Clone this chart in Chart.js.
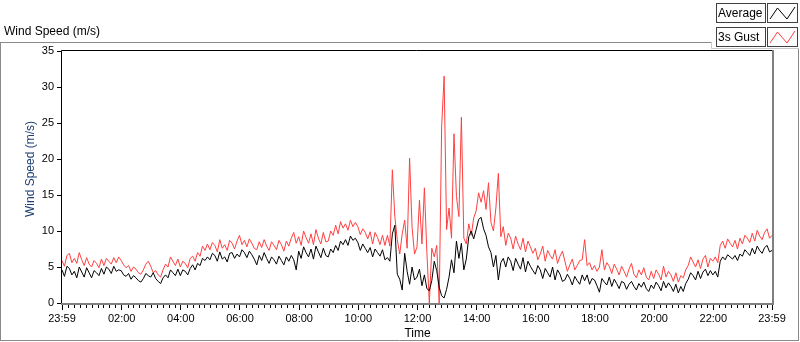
<!DOCTYPE html>
<html>
<head>
<meta charset="utf-8">
<title>Wind Speed</title>
<script src="https://cdn.jsdelivr.net/npm/chart.js@4.4.1/dist/chart.umd.min.js"></script>
<style>
  html, body { margin: 0; padding: 0; background: #fff; }
  #wrap { position: relative; width: 800px; height: 342px; }
</style>
</head>
<body>
<div id="wrap"><canvas id="windChart" width="800" height="342"></canvas></div>
<script>
// one sample every 5 minutes, 23:59 -> 23:59 (minutes from midnight)
const startMinute = -1;
const stepMinutes = 5;

// Average wind speed (m/s), 12 samples per hour
const average = [
  4.6, 3.7, 5.1, 4.8, 3.9, 4.4, 3.5, 5.0, 4.3, 3.6, 4.9, 4.2,
  3.5, 4.5, 4.2, 3.8, 4.8, 4.0, 5.0, 4.7, 4.1, 5.1, 4.4, 4.6,
  4.5, 3.9, 3.7, 4.1, 3.3, 3.8, 3.5, 3.1, 2.9, 3.4, 4.1, 3.8,
  3.6, 4.2, 3.4, 3.0, 2.7, 3.5, 3.9, 3.5, 4.6, 4.2, 3.8, 4.7,
  3.8, 4.6, 4.4, 3.9, 4.8, 5.3, 4.6, 5.5, 5.2, 6.2, 5.9, 6.4,
  6.0, 6.9, 6.6, 5.8, 7.1, 6.1, 6.4, 5.7, 6.9, 7.0, 6.2, 6.8,
  6.4, 7.4, 7.0, 6.3, 7.2, 6.7, 6.1, 5.3, 6.6, 5.9, 7.0, 6.2,
  5.5, 6.4, 6.0, 5.4, 6.5, 5.9, 5.3, 6.4, 5.8, 6.6, 6.0, 4.6,
  7.2, 6.2, 7.8, 7.0, 6.4, 7.5, 6.1, 7.9, 7.1, 6.3, 7.6, 6.6,
  6.4, 7.5, 7.0, 8.0, 7.3, 8.6, 8.1, 8.8, 8.0, 9.3, 8.7, 9.0,
  8.4, 7.3, 8.2, 7.6, 7.0, 7.7, 6.4, 7.5, 7.0, 6.5, 7.4, 6.0,
  6.3, 5.8, 9.6, 10.8, 4.0, 3.3, 1.8, 6.9, 4.4, 2.6, 5.0, 3.2,
  3.6, 4.7, 2.4, 3.9, 2.0, 1.7, 3.1, 5.8, 4.5, 2.2, 1.0, 0.7,
  1.9, 3.6, 6.0, 4.2, 8.6, 6.2, 8.3, 4.6, 6.1, 9.2, 10.0, 8.9,
  10.2, 11.6, 11.9, 10.3, 9.4, 7.8, 7.0, 5.0, 6.6, 3.2, 5.6, 6.2,
  5.0, 6.4, 5.8, 4.5, 6.2, 5.4, 4.7, 6.3, 4.3, 5.8, 5.1, 4.5,
  4.0, 5.2, 4.6, 3.4, 4.8, 4.2, 3.6, 5.0, 3.2, 4.6, 4.0, 3.0,
  3.2, 4.0, 3.4, 2.5, 3.7, 3.1, 2.6, 3.9, 3.1, 3.9, 2.6, 3.4,
  3.2, 2.4, 1.5, 3.4, 2.9, 2.5, 3.6, 2.3, 3.3, 2.7, 2.0, 3.0,
  2.8, 1.9, 2.6, 3.0, 2.3, 1.8, 2.7, 2.2, 2.9, 2.0, 1.6, 2.5,
  2.0, 2.9, 2.4, 1.7, 3.0, 2.1, 2.8, 2.3, 1.6, 2.6, 1.4, 2.3,
  1.6, 2.7, 3.3, 4.2, 3.8, 3.2, 4.4, 3.4, 4.3, 4.7, 3.8, 4.5,
  3.9, 4.4, 3.6, 5.8, 6.4, 6.0, 6.7, 6.4, 6.1, 6.6, 5.9, 6.8,
  6.5, 7.4, 7.0, 6.6, 7.6, 6.8, 7.9, 7.3, 6.9, 7.7, 8.0, 7.1,
  7.3
];

// 3 second gust (m/s)
const gust3s = [
  5.9, 5.1, 6.6, 6.9, 5.6, 6.2, 5.5, 7.0, 6.0, 5.2, 6.3, 5.4,
  5.0, 5.9, 5.5, 4.9, 6.1, 5.2, 6.2, 5.8, 5.4, 6.3, 5.6, 6.4,
  5.9, 5.3, 4.9, 5.2, 4.4, 5.0, 4.7, 4.2, 4.0, 4.6, 5.4, 5.8,
  5.1, 4.2, 4.5, 3.9, 3.6, 4.6, 5.4, 5.0, 6.4, 5.8, 5.2, 6.1,
  5.0, 5.8, 5.5, 4.9, 6.2, 6.5, 5.8, 7.0, 6.5, 7.9, 7.3, 8.2,
  7.4, 8.4, 8.0, 7.1, 8.8, 7.6, 8.1, 7.3, 8.7, 8.3, 7.5, 8.6,
  9.4, 8.1, 8.7, 7.8, 8.9, 8.3, 7.6, 7.4, 8.5, 7.7, 8.8, 7.9,
  7.3, 8.5, 8.0, 7.4, 8.7, 8.1, 7.2, 8.6, 7.9, 9.0, 9.8, 8.3,
  9.2, 8.0, 10.0, 9.1, 8.3, 9.6, 8.1, 10.2, 9.0, 8.2, 9.8, 8.5,
  8.6, 10.0, 9.4, 10.8, 9.6, 11.3, 10.4, 11.0, 10.1, 11.5, 10.6, 11.2,
  10.6, 9.5, 10.3, 9.8, 8.9, 9.9, 8.2, 9.8, 9.1, 8.1, 9.4, 8.0,
  9.4, 7.9, 18.5, 12.0, 8.8, 6.8, 9.6, 11.5, 7.6, 20.1, 10.5, 6.8,
  7.8, 14.3, 8.2, 16.0, 7.0, 0.0, 7.6, 6.4, 8.0, 0.0, 24.5, 31.5,
  10.2, 13.2, 9.0, 23.5, 14.8, 12.0, 25.8, 9.0, 8.2, 11.0, 9.4, 11.8,
  12.8, 15.3, 14.0, 15.6, 13.0, 16.7, 11.2, 10.0, 13.2, 18.0, 9.2, 10.6,
  8.0, 9.7, 9.0, 7.5, 9.3, 8.2, 7.4, 9.0, 7.1, 8.6, 7.8, 6.9,
  7.6, 6.0, 6.8, 7.9, 5.8, 7.3, 6.6, 6.1, 7.4, 5.5, 6.5, 7.2,
  5.8, 4.4, 5.3, 6.1, 4.6, 5.2, 5.9, 6.0, 8.8, 5.2, 5.6, 4.6,
  5.2, 4.4, 5.0, 7.4, 4.6, 5.6, 5.1, 4.1, 5.4, 4.7, 3.9, 5.1,
  4.4, 3.6, 4.7, 5.5, 4.0, 3.5, 4.6, 3.9, 4.9, 3.6, 3.2, 4.4,
  3.4, 4.6, 4.0, 3.2, 5.1, 3.6, 4.4, 3.9, 3.0, 4.2, 2.9, 3.8,
  3.5, 4.6, 5.2, 6.4, 5.7, 5.0, 6.0, 4.8, 6.1, 6.6, 5.0, 6.2,
  5.8, 6.4, 5.6, 8.0, 8.6, 7.6, 8.9, 8.3, 7.8, 8.7, 7.5, 9.0,
  8.2, 9.4, 9.0, 8.4, 9.7, 8.6, 10.1, 9.3, 8.8, 9.8, 10.3, 9.0,
  9.4
];

const yTicks = [0, 5, 10, 15, 20, 25, 30, 35];
const xTickMinutes = [-1, 120, 240, 360, 480, 600, 720, 840, 960, 1080, 1200, 1320, 1439];
const xTickLabels = ["23:59", "02:00", "04:00", "06:00", "08:00", "10:00", "12:00",
                     "14:00", "16:00", "18:00", "20:00", "22:00", "23:59"];
const minorStep = 12;

const FONT = '"Liberation Sans", Arial, sans-serif';

function toPoints(values) {
  return values.map((v, i) => ({ x: startMinute + i * stepMinutes, y: v }));
}

// LabVIEW style frame, legend and minor ticks
const labviewFrame = {
  id: 'labviewFrame',
  beforeDraw(chart) {
    const ctx = chart.ctx;
    ctx.save();
    ctx.fillStyle = '#fff';
    ctx.fillRect(0, 0, chart.width, chart.height);
    ctx.restore();
  },
  afterDraw(chart) {
    const ctx = chart.ctx;
    const a = chart.chartArea;
    const xs = chart.scales.x;
    ctx.save();

    // plot border: dark top/left, gray bottom/right
    ctx.lineWidth = 1;
    ctx.strokeStyle = '#000';
    ctx.beginPath();
    ctx.moveTo(Math.round(a.left) - 0.5, Math.round(a.bottom));
    ctx.lineTo(Math.round(a.left) - 0.5, Math.round(a.top) - 0.5);
    ctx.lineTo(Math.round(a.right), Math.round(a.top) - 0.5);
    ctx.stroke();
    ctx.strokeStyle = '#808080';
    ctx.lineWidth = 2;
    ctx.beginPath();
    ctx.moveTo(Math.round(a.left) - 1, Math.round(a.bottom) + 1);
    ctx.lineTo(Math.round(a.right) + 1, Math.round(a.bottom) + 1);
    ctx.lineTo(Math.round(a.right) + 1, Math.round(a.top) - 1);
    ctx.stroke();

    // minor ticks on the time axis
    ctx.strokeStyle = '#000';
    ctx.lineWidth = 1;
    ctx.beginPath();
    for (let k = 0; k < xTickMinutes.length - 1; k++) {
      for (let m = xTickMinutes[k] + minorStep; m < xTickMinutes[k + 1] - 2; m += minorStep) {
        const px = Math.round(xs.getPixelForValue(m)) + 0.5;
        ctx.moveTo(px, a.bottom + 2);
        ctx.lineTo(px, a.bottom + 5);
      }
    }
    ctx.stroke();

    // outer frame
    ctx.strokeStyle = '#8a8a8a';
    ctx.lineWidth = 1;
    ctx.beginPath();
    ctx.moveTo(0, 42.5);
    ctx.lineTo(712, 42.5);
    ctx.moveTo(0.5, 42.5);
    ctx.lineTo(0.5, 341);
    ctx.moveTo(0, 340.5);
    ctx.lineTo(799, 340.5);
    ctx.moveTo(798.5, 49);
    ctx.lineTo(798.5, 341);
    ctx.stroke();
    ctx.strokeStyle = '#c8c8c8';
    ctx.beginPath();
    ctx.moveTo(711.5, 42);
    ctx.lineTo(711.5, 48.5);
    ctx.lineTo(799, 48.5);
    ctx.stroke();

    // texts
    ctx.fillStyle = '#000';
    ctx.font = '12px ' + FONT;
    ctx.textAlign = 'left';
    ctx.textBaseline = 'middle';
    ctx.fillText('Wind Speed (m/s)', 4, 32);
    ctx.textAlign = 'center';
    ctx.fillText('Time', (a.left + a.right) / 2 + 0.5, 334);
    ctx.save();
    ctx.translate(31, 169);
    ctx.rotate(-Math.PI / 2);
    ctx.fillStyle = '#1d3f73';
    ctx.fillText('Wind Speed (m/s)', 0, 0);
    ctx.restore();

    // legend
    chart.data.datasets.forEach((ds, i) => {
      const top = 3 + i * 24;
      ctx.fillStyle = '#fdfdfd';
      ctx.fillRect(716, top, 49, 19);
      ctx.fillRect(767, top, 30, 19);
      ctx.strokeStyle = '#404040';
      ctx.lineWidth = 1;
      ctx.strokeRect(716.5, top + 0.5, 49, 19);
      ctx.strokeRect(767.5, top + 0.5, 30, 19);
      ctx.fillStyle = '#000';
      ctx.textAlign = 'left';
      ctx.font = '12px ' + FONT;
      ctx.fillText(ds.label, 718, top + 10.5);
      ctx.strokeStyle = ds.borderColor;
      ctx.beginPath();
      ctx.moveTo(770, top + 16);
      ctx.lineTo(777.5, top + 5);
      ctx.lineTo(787, top + 16);
      ctx.lineTo(795, top + 4);
      ctx.stroke();
    });
    ctx.restore();
  }
};

const ctx = document.getElementById('windChart').getContext('2d');
new Chart(ctx, {
  type: 'line',
  data: {
    datasets: [
      { label: 'Average', data: toPoints(average), borderColor: '#000000', borderWidth: 1,
        pointRadius: 0, tension: 0, fill: false },
      { label: '3s Gust', data: toPoints(gust3s), borderColor: '#ff4040', borderWidth: 1,
        pointRadius: 0, tension: 0, fill: false }
    ]
  },
  options: {
    responsive: false,
    animation: false,
    devicePixelRatio: 1,
    layout: { padding: { top: 51, right: 28, left: 0, bottom: 0 } },
    plugins: { legend: { display: false }, tooltip: { enabled: false }, title: { display: false } },
    scales: {
      x: {
        type: 'linear',
        min: -1,
        max: 1439,
        afterFit: s => { s.height = 39; },
        afterBuildTicks: s => { s.ticks = xTickMinutes.map(v => ({ value: v })); },
        ticks: {
          autoSkip: false, maxRotation: 0, padding: 2, color: '#000',
          font: { family: FONT, size: 11 },
          callback: (v, i) => xTickLabels[i]
        },
        grid: { display: true, drawOnChartArea: false, drawTicks: true, tickLength: 7, tickColor: '#000', tickWidth: 1 },
        border: { display: false }
      },
      y: {
        min: 0,
        max: 35,
        afterFit: s => { s.width = 62; },
        afterBuildTicks: s => { s.ticks = yTicks.map(v => ({ value: v })); },
        ticks: { padding: 3, color: '#000', font: { family: FONT, size: 11 } },
        grid: { display: true, drawOnChartArea: false, drawTicks: true, tickLength: 5, tickColor: '#000', tickWidth: 1 },
        border: { display: false }
      }
    }
  },
  plugins: [labviewFrame]
});
</script>
</body>
</html>
